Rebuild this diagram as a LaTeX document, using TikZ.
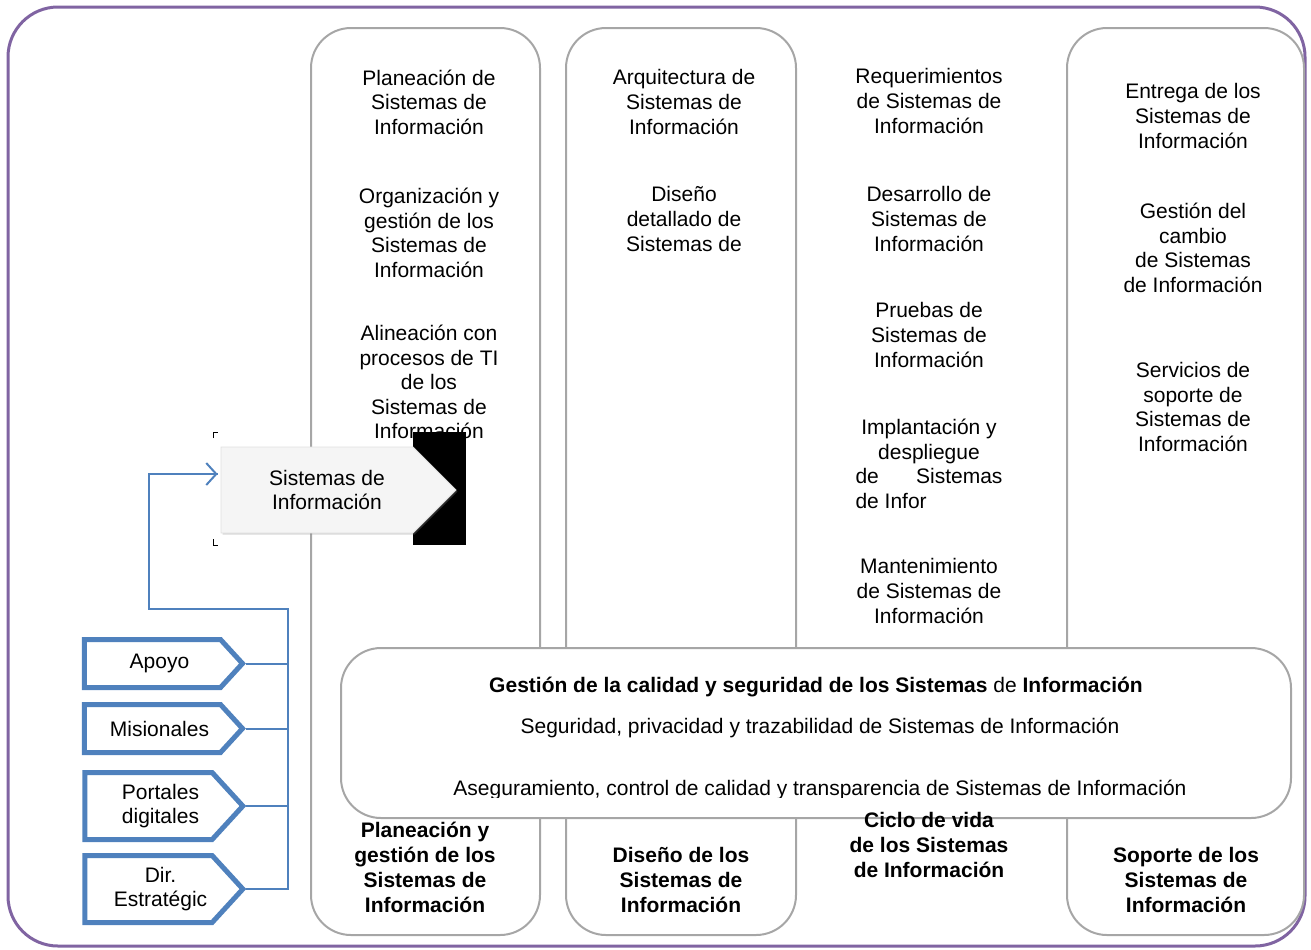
\documentclass[tikz,border=0pt]{standalone}
\usepackage{fontspec}
\setmainfont{Liberation Sans}
\usetikzlibrary{shapes.symbols,arrows.meta,shadows}
\definecolor{marco}{HTML}{8064A2}
\definecolor{azul}{HTML}{4F81BD}
\definecolor{gris}{HTML}{A6A6A6}
\begin{document}
\begin{tikzpicture}[x=0.5pt,y=-0.5pt,
    txt/.style={align=center, inner sep=0pt, font=\fontsize{10.5}{12.3}\selectfont},
    titulo/.style={align=center, inner sep=0pt, font=\fontsize{10.5}{12.5}\selectfont\bfseries},
    colbox/.style={draw=gris, line width=1pt, rounded corners=20pt, minimum width=#1, minimum height=453.5pt},
    proc/.style={draw=azul, line width=2.5pt, fill=white, shape=signal, signal to=east, signal pointer angle=95,
        minimum width=79pt, align=center, inner sep=1pt, font=\fontsize{10.5}{12.3}\selectfont},
    conn/.style={draw=azul, line width=1pt}
]
    \useasboundingbox (0,0) rectangle (1311,949);

    % outer frame
    \draw[marco, line width=1.5pt, rounded corners=25pt] (8,7) rectangle (1305,946);

    % columns
    \node[colbox=114.5pt] (col1) at (425.5,481.5) {};
    \node[colbox=115pt] (col2) at (681,481.5) {};
    \node[colbox=118.5pt] (col4) at (1185.5,481.5) {};

    % column 1
    \node[txt] (plan) at (429,102) {Planeación de\\Sistemas de\\Información};
    \node[txt] (org) at (429,233) {Organización y\\gestión de los\\Sistemas de\\Información};
    \node[txt] (alin) at (429,382) {Alineación con\\procesos de TI\\de los\\Sistemas de\\Información};

    % column 2
    \node[txt] (arq) at (684,102) {Arquitectura de\\Sistemas de\\Información};
    \node[txt] (dis) at (684,219) {Diseño\\detallado de\\Sistemas de};

    % column 3
    \node[txt] (req) at (929,101) {Requerimientos\\de Sistemas de\\Información};
    \node[txt] (des) at (929,219) {Desarrollo de\\Sistemas de\\Información};
    \node[txt] (pru) at (929,335) {Pruebas de\\Sistemas de\\Información};
    \node[txt] (imp) at (929,464) {Implantación y\\despliegue\\\makebox[73.5pt][s]{de\hfill Sistemas}\\\makebox[73.5pt][l]{de Infor}};
    \node[txt] (man) at (929,591) {Mantenimiento\\de Sistemas de\\Información};

    % column 4
    \node[txt] (ent) at (1193,116) {Entrega de los\\Sistemas de\\Información};
    \node[txt] (cam) at (1193,248) {Gestión del\\cambio\\de Sistemas\\de Información};
    \node[txt] (sop) at (1193,407) {Servicios de\\soporte de\\Sistemas de\\Información};

    % quality box
    \node[draw=gris, line width=1pt, fill=white, rounded corners=20pt, minimum width=475pt, minimum height=85pt] (cal) at (816,733) {};
    \node[txt] (calT) at (816,687) {\textbf{Gestión de la calidad y seguridad de los Sistemas} de \textbf{Información}};
    \node[txt] (seg) at (820,728) {Seguridad, privacidad y trazabilidad de Sistemas de Información};
    \begin{scope}
        \clip (350,770) rectangle (1280,797);
        \node[txt] (ase) at (820,790) {Aseguramiento, control de calidad y transparencia de Sistemas de Información};
    \end{scope}

    % column titles
    \node[titulo] (t1) at (425,867) {Planeación y\\gestión de los\\Sistemas de\\Información};
    \node[titulo] (t2) at (681,880) {Diseño de los\\Sistemas de\\Información};
    \node[titulo] (t3) at (929,845) {Ciclo de vida\\de los Sistemas\\de Información};
    \node[titulo] (t4) at (1186,880) {Soporte de los\\Sistemas de\\Información};

    % Sistemas de Informacion arrow
    \fill[black] (413,432) rectangle (466,545);
    \draw[line width=0.4pt] (213,438) -- (213,432) -- (218,432);
    \draw[line width=0.4pt] (213,539) -- (213,545) -- (218,545);
    \node[shape=signal, signal to=east, signal pointer angle=90, draw=gray!25, fill=gray!8,
        drop shadow={shadow xshift=0.8pt, shadow yshift=-0.8pt, opacity=0.3}, minimum width=117.5pt, minimum height=43pt, align=center,
        font=\fontsize{10.5}{12.3}\selectfont] (sis) at (317,490) {\hspace*{10pt}Sistemas de\\\hspace*{10pt}Información};

    % processes
    \node[proc, minimum height=24pt] (apoyo) at (152.5,663.5) {\hspace*{7pt}Apoyo};
    \node[proc, minimum height=24pt] (mis) at (152.5,728.5) {\hspace*{7pt}Misionales};
    \node[proc, minimum height=33.5pt] (port) at (148.5,806) {\hspace*{12pt}Portales\\\hspace*{12pt}digitales};
    \node[proc, minimum height=33.5pt] (dir) at (148.5,889) {\hspace*{12pt}Dir.\\\hspace*{12pt}Estratégic};

    % connectors
    \coordinate (busTop) at (288,609);
    \coordinate (turn) at (149,609);
    \draw[conn] (apoyo.east) -- (apoyo.east -| busTop);
    \draw[conn] (mis.east) -- (mis.east -| busTop);
    \draw[conn] (port.east) -- (port.east -| busTop);
    \draw[conn] (dir.east) -- (dir.east -| busTop) -- (busTop) -- (turn)
        |- ([xshift=-1.5pt,yshift=8pt]sis.west);
    \draw[conn, -{Straight Barb[length=5pt,width=11pt]}] ([xshift=-20pt,yshift=8pt]sis.west) -- ([xshift=-1.5pt,yshift=8pt]sis.west);
\end{tikzpicture}
\end{document}
